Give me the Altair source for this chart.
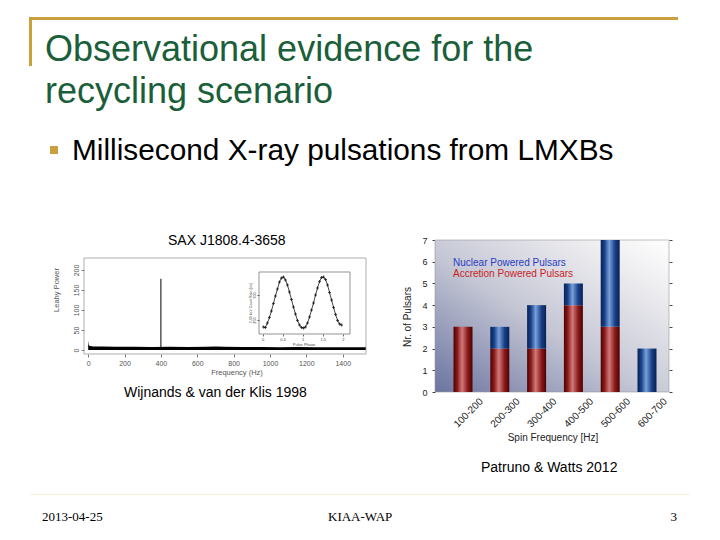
import altair as alt
import pandas as pd

# ---------------- data ----------------
bins = ["100-200", "200-300", "300-400", "400-500", "500-600", "600-700"]
accretion = [3, 2, 2, 4, 3, 0]
nuclear = [0, 1, 2, 1, 4, 2]
count_ticks = [0, 1, 2, 3, 4, 5, 6, 7]

freq_ticks = [0, 200, 400, 600, 800, 1000, 1200, 1400]
power_ticks = [0, 50, 100, 150, 200]
noise_freq = [0, 4, 10, 30, 80, 150, 250, 350, 450, 550, 650, 700, 750, 850, 950, 1050, 1150, 1250, 1350, 1450, 1528]
noise_top = [23, 12, 10, 9, 8.5, 8, 8, 7.5, 8, 7.5, 8, 9, 8, 7.5, 7.5, 7, 7.5, 7, 7, 7, 7]
spike_freq = [400]
spike_power = [178]

phase = [0.02, 0.07, 0.12, 0.17, 0.22, 0.27, 0.32, 0.37, 0.42, 0.47, 0.52, 0.57, 0.62, 0.67,
         0.72, 0.77, 0.82, 0.87, 0.92, 0.97, 1.02, 1.07, 1.12, 1.17, 1.22, 1.27, 1.32, 1.37,
         1.42, 1.47, 1.52, 1.57, 1.62, 1.67, 1.72, 1.77, 1.82, 1.87, 1.92, 1.97]
rate = [236, 235, 244, 255, 268, 283, 298, 312, 326, 334, 336, 330, 320, 306,
        291, 276, 262, 249, 240, 235, 234, 236, 244, 256, 270, 284, 300, 314,
        327, 335, 336, 331, 320, 305, 290, 275, 261, 249, 242, 240]
phase_ticks = [0, 0.5, 1, 1.5, 2]
rate_ticks = [250, 300]

GOLD = "#c8a03c"
GREEN = "#1a5e3a"
SANS = "Liberation Sans"
SERIF = "Liberation Serif"
one = pd.DataFrame({"k": [0]})


def P(v):
    return v - 8


def txt(s, x, y, size, color="black", font=SANS, align="left", baseline="alphabetic", angle=0):
    return alt.Chart(one).mark_text(
        text=s, fontSize=size, color=color, font=font, align=align, baseline=baseline, angle=angle
    ).encode(x=alt.value(P(x)), y=alt.value(P(y)))


def box(x1, y1, x2, y2, **kw):
    return alt.Chart(one).mark_rect(**kw).encode(
        x=alt.value(P(x1)), x2=alt.value(P(x2)), y=alt.value(P(y1)), y2=alt.value(P(y2))
    )


layers = []

# slide frame, title and bullet
layers.append(box(29, 17, 678, 20, color=GOLD))
layers.append(box(29, 17, 32, 66, color=GOLD))
layers.append(txt("Observational evidence for the", 45, 61, 36, color=GREEN))
layers.append(txt("recycling scenario", 45, 103, 36, color=GREEN))
layers.append(box(50, 146, 58, 154, color=GOLD))
layers.append(txt("Millisecond X-ray pulsations from LMXBs", 72, 160, 29.8))

# ---------------- left panel: power spectrum ----------------
sx = alt.Scale(domain=[-23, 1528], range=[P(84), P(366)], nice=False, zero=False)
sy = alt.Scale(domain=[-10, 230], range=[P(354), P(258)], nice=False, zero=False)
ax_x = alt.Axis(orient="bottom", offset=-(524 - P(354)), values=freq_ticks, labelFontSize=7,
                labelColor="#555", tickColor="#777", tickSize=3, domain=False, grid=False,
                title=None, labelFont=SANS, labelPadding=2, format="d")
ax_y = alt.Axis(orient="left", offset=-P(84), values=power_ticks, labelFontSize=7,
                labelColor="#555", tickColor="#777", tickSize=3, domain=False, grid=False,
                title=None, labelFont=SANS, labelAngle=-90, labelPadding=2, format="d")
noise_df = pd.DataFrame({"f": noise_freq, "p": noise_top})
spike_df = pd.DataFrame({"f": spike_freq, "p": spike_power})
noise = alt.Chart(noise_df).mark_area(color="black").encode(
    x=alt.X("f:Q", scale=sx, axis=ax_x),
    y=alt.Y("p:Q", scale=sy, axis=ax_y),
    y2=alt.datum(0),
)
spike = alt.Chart(spike_df).mark_rule(color="black", strokeWidth=1).encode(
    x=alt.X("f:Q", scale=sx), y=alt.Y("p:Q", scale=sy), y2=alt.datum(0)
)
layers.append(alt.layer(noise, spike))
layers.append(box(84, 258, 366, 354, fillOpacity=0, stroke="#999", strokeWidth=0.8))

# inset pulse profile
ix = alt.Scale(domain=[-0.09, 2.18], range=[P(259), P(350)], nice=False, zero=False)
iy = alt.Scale(domain=[222, 346], range=[P(334), P(272)], nice=False, zero=False)
prof_df = pd.DataFrame({"ph": phase, "r": rate})
ix_ax = alt.Axis(orient="bottom", offset=-(524 - P(334)), values=phase_ticks, labelFontSize=4,
                 labelColor="#444", tickSize=2, tickColor="#666", domain=False, grid=False,
                 title=None, labelFont=SANS, labelPadding=1, format="~g")
iy_ax = alt.Axis(orient="left", offset=-P(259), values=rate_ticks, labelFontSize=4,
                 labelColor="#444", tickSize=2, tickColor="#666", domain=False, grid=False,
                 title=None, labelFont=SANS, labelAngle=-90, labelPadding=1, format="d")
prof_line = alt.Chart(prof_df).mark_line(color="#333", strokeWidth=0.9).encode(
    x=alt.X("ph:Q", scale=ix, axis=ix_ax), y=alt.Y("r:Q", scale=iy, axis=iy_ax)
)
prof_pts = alt.Chart(prof_df).mark_point(shape="cross", filled=True, color="black", size=8).encode(
    x=alt.X("ph:Q", scale=ix), y=alt.Y("r:Q", scale=iy)
)
layers.append(alt.layer(prof_line, prof_pts))
layers.append(box(259, 272, 350, 334, fillOpacity=0, stroke="#666", strokeWidth=0.7))
layers.append(txt("Pulse Phase", 304, 344.5, 4, color="#444", align="center", baseline="middle"))
layers.append(txt("2-60 keV Count Rate (c/s)", 251, 303, 3.5, color="#444", align="center",
                  baseline="middle", angle=270))

layers.append(txt("Frequency (Hz)", 237, 373, 7.5, color="#555", align="center", baseline="middle"))
layers.append(txt("Leahy Power", 57, 290, 7.5, color="#555", align="center", baseline="middle", angle=270))
layers.append(txt("SAX J1808.4-3658", 168, 245, 14))
layers.append(txt("Wijnands & van der Klis 1998", 124, 397, 14))

# ---------------- right panel: spin frequency histogram ----------------
bg_grad = alt.Gradient(
    gradient="linear", x1=0, y1=1, x2=1, y2=0,
    stops=[alt.GradientStop(color="#6b74a0", offset=0),
           alt.GradientStop(color="#c4c6d4", offset=0.45),
           alt.GradientStop(color="#ececef", offset=0.8),
           alt.GradientStop(color="#ffffff", offset=1)],
)
layers.append(box(435, 240, 669, 392, color=bg_grad, stroke="#999", strokeWidth=0.6))

bx = alt.Scale(domain=bins, range=[P(444.6), P(665.4)], paddingInner=0.484, paddingOuter=0.242)
by = alt.Scale(domain=[0, 7], range=[P(392), P(240)], nice=False, zero=False)
bar_df = pd.DataFrame({
    "bin": bins,
    "acc": accretion,
    "nuc_lo": accretion,
    "nuc_hi": [a + n for a, n in zip(accretion, nuclear)],
})
red_grad = alt.Gradient(
    gradient="linear", x1=0, y1=0, x2=1, y2=0,
    stops=[alt.GradientStop(color="#4e0000", offset=0),
           alt.GradientStop(color="#8a1a1a", offset=0.2),
           alt.GradientStop(color="#d07a7a", offset=0.45),
           alt.GradientStop(color="#8a1a1a", offset=0.75),
           alt.GradientStop(color="#4e0000", offset=1)],
)
blue_grad = alt.Gradient(
    gradient="linear", x1=0, y1=0, x2=1, y2=0,
    stops=[alt.GradientStop(color="#0a2050", offset=0),
           alt.GradientStop(color="#17408a", offset=0.2),
           alt.GradientStop(color="#7aa0d8", offset=0.45),
           alt.GradientStop(color="#17408a", offset=0.75),
           alt.GradientStop(color="#0a2050", offset=1)],
)
bx_ax = alt.Axis(orient="bottom", offset=-(524 - P(392)), labelAngle=-45, labelFontSize=10,
                 labelFont=SANS, labelColor="#222", ticks=False, domain=False, grid=False,
                 title=None, labelOffset=15, labelPadding=4)
by_ax = alt.Axis(orient="left", offset=-P(435), values=count_ticks, labelFontSize=9,
                 labelFont=SANS, labelColor="#222", tickSize=3, tickColor="#444",
                 domain=False, grid=False, title=None, labelPadding=5, format="d")
red = alt.Chart(bar_df).mark_bar(color=red_grad).encode(
    x=alt.X("bin:N", scale=bx, sort=bins, axis=bx_ax),
    y=alt.Y("acc:Q", scale=by, axis=by_ax),
    y2=alt.datum(0),
)
blue = alt.Chart(bar_df).mark_bar(color=blue_grad).encode(
    x=alt.X("bin:N", scale=bx, sort=bins),
    y=alt.Y("nuc_hi:Q", scale=by),
    y2=alt.Y2("nuc_lo:Q"),
)
layers.append(alt.layer(red, blue))

tick_df = pd.DataFrame({"c": count_ticks})
right_ticks = alt.Chart(tick_df).mark_point(opacity=0).encode(
    x=alt.value(P(600)),
    y=alt.Y("c:Q", scale=by, axis=alt.Axis(orient="right", offset=-(704 - P(669)), values=count_ticks,
                                          labels=False, tickSize=3, tickColor="#444", domain=False,
                                          grid=False, title=None)),
)
layers.append(right_ticks)

layers.append(txt("Nuclear Powered Pulsars", 453, 265.5, 10, color="#2a3cc0"))
layers.append(txt("Accretion Powered Pulsars", 453, 276.5, 10, color="#c81e1e"))
layers.append(txt("Nr. of Pulsars", 408, 317, 10, color="#222", align="center", baseline="middle", angle=270))
layers.append(txt("Spin Frequency [Hz]", 553, 438, 10, color="#222", align="center", baseline="middle"))
layers.append(txt("Patruno & Watts 2012", 481, 472, 14))

# ---------------- footer ----------------
layers.append(box(30, 494, 690, 495, color="#f6f0d6"))
layers.append(txt("2013-04-25", 42, 521, 13, font=SERIF))
layers.append(txt("KIAA-WAP", 328, 521, 13, font=SERIF))
layers.append(txt("3", 677, 521, 13, font=SERIF, align="right"))

chart = alt.layer(*layers).resolve_scale(x="independent", y="independent").properties(
    width=704, height=524, padding=0, autosize=alt.AutoSizeParams(type="none"), background="white"
).configure_view(strokeWidth=0)

chart.save("out.html", embed_options={"renderer": "svg", "actions": False})
